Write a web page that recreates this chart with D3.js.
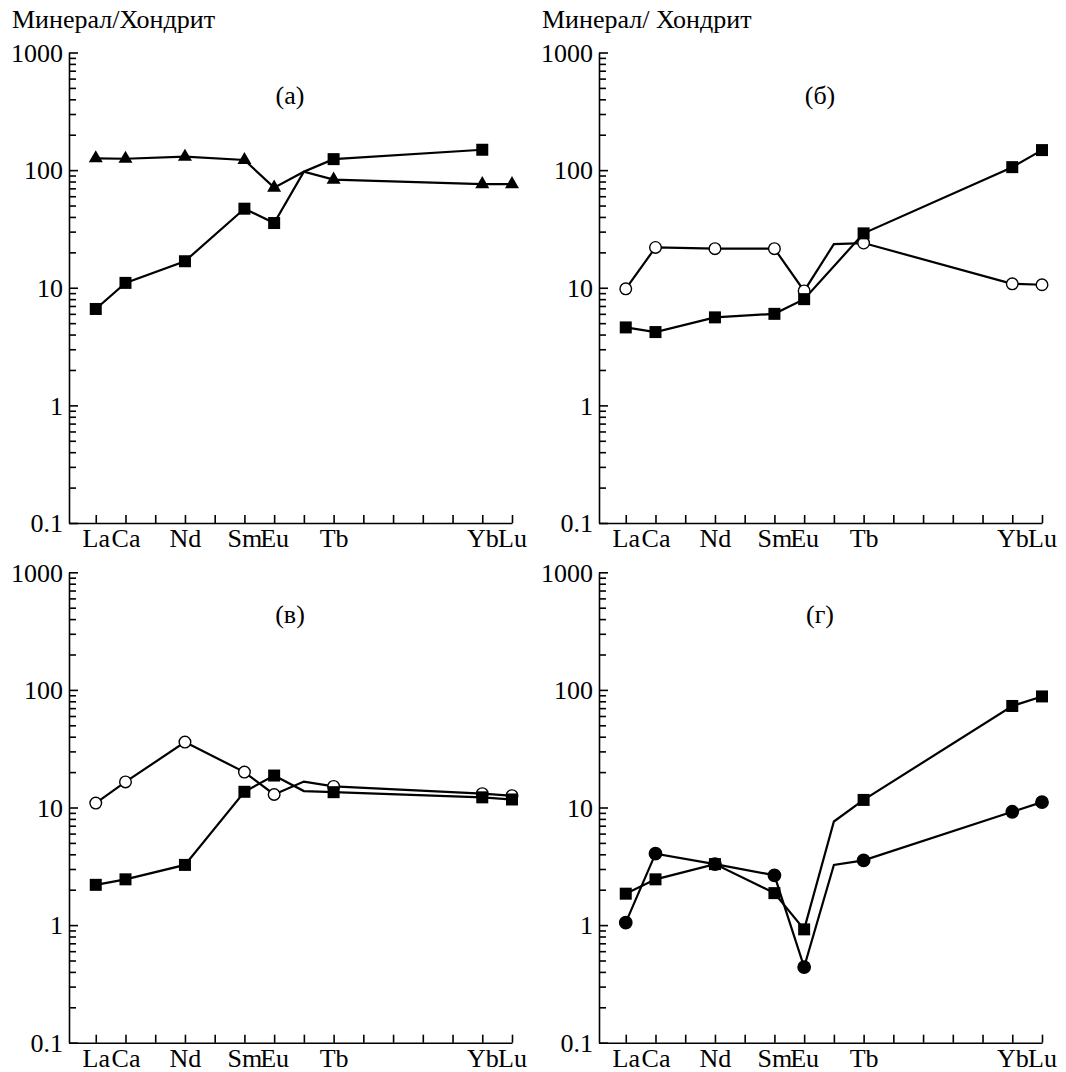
<!DOCTYPE html>
<html>
<head>
<meta charset="utf-8">
<script src="https://cdn.jsdelivr.net/npm/d3@7"></script>
<style>
  body { margin: 0; background: #fff; }
  svg text { font-family: "Liberation Serif", "DejaVu Serif", serif; fill: #000; }
</style>
</head>
<body>
<div id="chart"></div>
<script>
// REE order, index 0..14
const elements = ["La", "Ce", "Pr", "Nd", "Pm", "Sm", "Eu", "Gd", "Tb", "Dy", "Ho", "Er", "Tm", "Yb", "Lu"];
const tickLabels = ["La", "Ca", "", "Nd", "", "Sm", "Eu", "", "Tb", "", "", "", "", "Yb", "Lu"];
const yTickValues = [0.1, 1, 10, 100, 1000];
const yTickLabels = ["0.1", "1", "10", "100", "1000"];
const noMarkerIndex = 7; // Gd: line kink only

// (а)
const aTriangles = [126, 125, null, 130, null, 122, 71, 97, 83, null, null, null, null, 76, 76];
const aSquares   = [6.6, 11, null, 16.8, null, 47, 35.5, 97, 124, null, null, null, null, 149, null];
// (б)
const bCircles   = [9.8, 22, null, 21.5, null, 21.5, 9.4, 23.5, 24, null, null, null, null, 10.8, 10.6];
const bSquares   = [4.6, 4.2, null, 5.6, null, 6.0, 8.0, null, 29, null, null, null, null, 106, 148];
// (в)
const vCircles   = [10.9, 16.5, null, 36, null, 20, 12.9, 16.6, 15.1, null, null, null, null, 13.1, 12.6];
const vSquares   = [2.2, 2.45, null, 3.25, null, 13.6, 18.7, 13.8, 13.5, null, null, null, null, 12.2, 11.7];
// (г)
const gCircles   = [1.05, 4.05, null, 3.3, null, 2.65, 0.44, 3.25, 3.55, null, null, null, null, 9.2, 11.1];
const gSquares   = [1.85, 2.45, null, 3.3, null, 1.87, 0.92, 7.6, 11.6, null, null, null, null, 73, 88];

const panels = [
  { x0: 69,  top: 52.5,  bottom: 523,    tag: "(а)", yTitle: "Минерал/Хондрит",
    series: [{ v: aTriangles, m: "triangle" }, { v: aSquares, m: "square" }] },
  { x0: 599, top: 52.5,  bottom: 523,    tag: "(б)", yTitle: "Минерал/ Хондрит",
    series: [{ v: bCircles, m: "open" }, { v: bSquares, m: "square" }] },
  { x0: 69,  top: 572.3, bottom: 1042.7, tag: "(в)", yTitle: null,
    series: [{ v: vCircles, m: "open" }, { v: vSquares, m: "square" }] },
  { x0: 599, top: 572.3, bottom: 1042.7, tag: "(г)", yTitle: null,
    series: [{ v: gCircles, m: "filled" }, { v: gSquares, m: "square" }] }
];

const width = 1066, height = 1072;
const svg = d3.select("#chart").append("svg")
  .attr("width", width)
  .attr("height", height);

const minorTicks = [];
[0.1, 1, 10, 100].forEach(dec => {
  for (let k = 2; k <= 9; k++) minorTicks.push(dec * k);
});

panels.forEach(p => {
  const g = svg.append("g");
  const x = d3.scaleLinear().domain([-0.9, 14]).range([p.x0, p.x0 + 443]);
  const y = d3.scaleLog().domain([0.1, 1000]).range([p.bottom, p.top]);

  // y axis, ticks pointing inward
  const yAxis = g.append("g")
    .attr("transform", `translate(${p.x0},0)`)
    .call(d3.axisLeft(y)
      .tickValues(yTickValues)
      .tickFormat((d, i) => yTickLabels[i])
      .tickSize(-9)
      .tickSizeOuter(0)
      .tickPadding(6));
  yAxis.selectAll("text").attr("font-size", "26px").attr("dy", "0.34em");

  g.append("g")
    .attr("transform", `translate(${p.x0},0)`)
    .call(d3.axisLeft(y)
      .tickValues(minorTicks)
      .tickFormat("")
      .tickSize(-7)
      .tickSizeOuter(0))
    .select(".domain").remove();

  // x axis
  const xAxis = g.append("g")
    .attr("transform", `translate(0,${p.bottom})`)
    .call(d3.axisBottom(x)
      .tickValues(d3.range(elements.length))
      .tickFormat(d => tickLabels[d])
      .tickSize(-8)
      .tickSizeOuter(0)
      .tickPadding(6));
  xAxis.selectAll("text").attr("font-size", "26px");

  g.selectAll(".domain, .tick line")
    .attr("stroke", "#000")
    .attr("stroke-width", 1.6);

  // titles
  if (p.yTitle) {
    g.append("text")
      .attr("x", p.x0 - 57)
      .attr("y", 28)
      .attr("font-size", "26px")
      .text(p.yTitle);
  }
  g.append("text")
    .attr("x", p.x0 + 221)
    .attr("y", p.top + 51)
    .attr("text-anchor", "middle")
    .attr("font-size", "26px")
    .text(p.tag);

  const line = d3.line()
    .defined(d => d.v != null)
    .x(d => x(d.i))
    .y(d => y(d.v));

  p.series.forEach(s => {
    const pts = s.v.map((v, i) => ({ i, v })).filter(d => d.v != null);
    g.append("path")
      .datum(pts)
      .attr("d", line)
      .attr("fill", "none")
      .attr("stroke", "#000")
      .attr("stroke-width", 2.2)
      .attr("stroke-linejoin", "miter");
  });

  p.series.forEach(s => {
    const pts = s.v.map((v, i) => ({ i, v }))
      .filter(d => d.v != null && d.i !== noMarkerIndex);
    const mk = g.selectAll(null).data(pts);
    if (s.m === "square") {
      mk.enter().append("rect")
        .attr("x", d => x(d.i) - 6)
        .attr("y", d => y(d.v) - 6)
        .attr("width", 12)
        .attr("height", 12)
        .attr("fill", "#000");
    } else if (s.m === "triangle") {
      mk.enter().append("path")
        .attr("transform", d => `translate(${x(d.i)},${y(d.v)})`)
        .attr("d", d3.symbol(d3.symbolTriangle, 85))
        .attr("fill", "#000");
    } else {
      mk.enter().append("circle")
        .attr("cx", d => x(d.i))
        .attr("cy", d => y(d.v))
        .attr("r", s.m === "filled" ? 6.2 : 5.8)
        .attr("fill", s.m === "filled" ? "#000" : "#fff")
        .attr("stroke", "#000")
        .attr("stroke-width", 1.4);
    }
  });
});
</script>
</body>
</html>
